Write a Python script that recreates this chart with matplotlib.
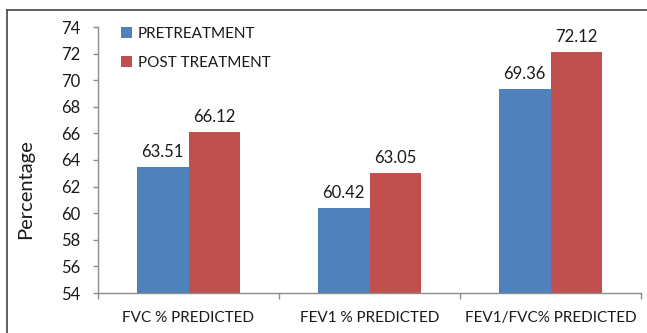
import matplotlib.pyplot as plt
import numpy as np
from matplotlib.lines import Line2D

categories = ['FVC % PREDICTED', 'FEV1 % PREDICTED', 'FEV1/FVC% PREDICTED']
pretreatment = [63.51, 60.42, 69.36]
post_treatment = [66.12, 63.05, 72.12]
series_names = ['PRETREATMENT', 'POST TREATMENT']
y_ticks = list(range(54, 75, 2))

plt.rcParams['font.family'] = ['Lato', 'DejaVu Sans']

fig = plt.figure(figsize=(6.47, 3.33), dpi=100)
ax = fig.add_axes([98 / 647, 40 / 333, 543 / 647, 266 / 333])

x = np.arange(len(categories))
w = 0.285
b1 = ax.bar(x - w / 2, pretreatment, w, color='#4F81BD', label=series_names[0])
b2 = ax.bar(x + w / 2, post_treatment, w, color='#C0504D', label=series_names[1])
ax.bar_label(b1, labels=['%.2f' % v for v in pretreatment], padding=5, fontsize=12, color='#1a1a1a')
ax.bar_label(b2, labels=['%.2f' % v for v in post_treatment], padding=5, fontsize=12, color='#1a1a1a')

ax.set_ylim(54, 74)
ax.set_xlim(-0.5, len(categories) - 0.5)
ax.set_yticks(y_ticks)
ax.set_xticks(x)
ax.set_xticklabels(categories)
ax.set_xticks(np.arange(-0.5, len(categories), 1), minor=True)

gray = '#8c8c8c'
for s in ['top', 'right']:
    ax.spines[s].set_visible(False)
for s in ['left', 'bottom']:
    ax.spines[s].set_color(gray)
    ax.spines[s].set_linewidth(1.0)

ax.tick_params(axis='y', length=3.5, width=1, color=gray, pad=9, labelsize=12, labelcolor='#1a1a1a')
ax.tick_params(axis='x', which='major', length=0, pad=13, labelsize=11, labelcolor='#1a1a1a')
ax.tick_params(axis='x', which='minor', length=4, width=1, color=gray)

fig.text(26 / 647, 1 - 189 / 333, 'Percentage', rotation=90, ha='center', va='center',
         fontsize=14.5, color='#1a1a1a')

ax.legend(loc='upper left', bbox_to_anchor=(121 / 647, 1 - 27 / 333), bbox_transform=fig.transFigure,
          frameon=False, fontsize=11, borderpad=0, borderaxespad=0,
          handlelength=0.72, handleheight=0.72, handletextpad=0.4, labelspacing=0.95,
          labelcolor='#1a1a1a')

# outer frame (top and left edges only visible)
fig.add_artist(Line2D([7 / 647, 1], [1 - 10 / 333, 1 - 10 / 333], transform=fig.transFigure,
                      color='#444444', linewidth=1.2))
fig.add_artist(Line2D([7 / 647, 7 / 647], [0, 1 - 10 / 333], transform=fig.transFigure,
                      color='#444444', linewidth=1.2))

plt.savefig('out.png', dpi=100)
plt.close()
